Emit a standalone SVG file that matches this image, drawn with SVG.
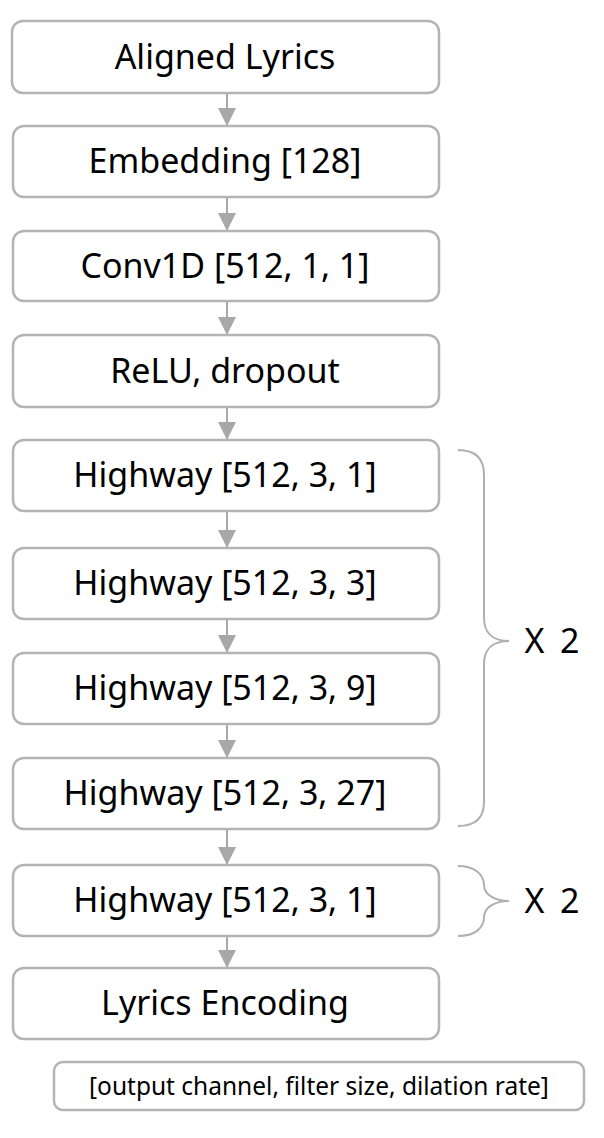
<svg xmlns="http://www.w3.org/2000/svg" width="604" height="1138" viewBox="0 0 604 1138">
<style>
.box{fill:#fff;stroke:#b4b4b4;stroke-width:2.5}
.t{font-family:"Noto Sans","Liberation Sans",sans-serif;font-size:34px;fill:#000;text-anchor:middle}
.s{font-family:"Noto Sans","Liberation Sans",sans-serif;font-size:24.5px;fill:#000;text-anchor:middle}
.c{stroke:#a8a8a8;stroke-width:2;fill:none}
.brace{stroke:#b0b0b0;stroke-width:2;fill:none}
</style>
<defs>
<marker id="ah" markerWidth="9" markerHeight="9" refX="9" refY="4.5" orient="auto" markerUnits="strokeWidth">
<path d="M0,0 L9,4.5 L0,9 Z" fill="#a8a8a8"/>
</marker>
</defs>
<rect width="604" height="1138" fill="#fff"/>
<g id="connectors">
<line class="c" x1="227" y1="93" x2="227" y2="126" marker-end="url(#ah)"/>
<line class="c" x1="227" y1="197" x2="227" y2="231" marker-end="url(#ah)"/>
<line class="c" x1="227" y1="301" x2="227" y2="335" marker-end="url(#ah)"/>
<line class="c" x1="227" y1="407" x2="227" y2="440" marker-end="url(#ah)"/>
<line class="c" x1="227" y1="511" x2="227" y2="548" marker-end="url(#ah)"/>
<line class="c" x1="227" y1="619" x2="227" y2="653" marker-end="url(#ah)"/>
<line class="c" x1="227" y1="724" x2="227" y2="758" marker-end="url(#ah)"/>
<line class="c" x1="227" y1="829" x2="227" y2="865" marker-end="url(#ah)"/>
<line class="c" x1="227" y1="936" x2="227" y2="968" marker-end="url(#ah)"/>
</g>
<g id="n1"><rect class="box" x="12" y="21" width="427" height="72" rx="11"/><text class="t" x="225" y="69">Aligned Lyrics</text></g>
<g id="n2"><rect class="box" x="13" y="126" width="426" height="71" rx="11"/><text class="t" x="225" y="173">Embedding [128]</text></g>
<g id="n3"><rect class="box" x="13" y="231" width="426" height="70" rx="11"/><text class="t" x="225" y="278">Conv1D [512, 1, 1]</text></g>
<g id="n4"><rect class="box" x="13" y="335" width="426" height="72" rx="11"/><text class="t" x="225" y="383">ReLU, dropout</text></g>
<g id="n5"><rect class="box" x="13" y="440" width="426" height="71" rx="11"/><text class="t" x="225" y="487">Highway [512, 3, 1]</text></g>
<g id="n6"><rect class="box" x="13" y="548" width="426" height="71" rx="11"/><text class="t" x="225" y="595">Highway [512, 3, 3]</text></g>
<g id="n7"><rect class="box" x="13" y="653" width="426" height="71" rx="11"/><text class="t" x="225" y="700">Highway [512, 3, 9]</text></g>
<g id="n8"><rect class="box" x="13" y="758" width="426" height="71" rx="11"/><text class="t" x="225" y="805">Highway [512, 3, 27]</text></g>
<g id="n9"><rect class="box" x="13" y="865" width="426" height="71" rx="11"/><text class="t" x="225" y="912">Highway [512, 3, 1]</text></g>
<g id="n10"><rect class="box" x="13" y="968" width="426" height="71" rx="11"/><text class="t" x="225" y="1015">Lyrics Encoding</text></g>
<g id="legend"><rect class="box" x="54" y="1062" width="530" height="48" rx="9"/><text class="s" x="319" y="1095">[output channel, filter size, dilation rate]</text></g>
<g id="brace1">
<path class="brace" d="M458,450 C475,450 484,458 484,475 L484,618 C484,632 492,641 509,641 C492,641 484,650 484,664 L484,802 C484,818 475,826 458,826"/>
<text class="t" x="552" y="653" textLength="55" lengthAdjust="spacing">X 2</text>
</g>
<g id="brace2">
<path class="brace" d="M458,866 C475,866 484,875 484,885 C484,894 494,901 509,901 C494,901 484,908 484,917 C484,928 475,936 458,936"/>
<text class="t" x="552" y="913" textLength="55" lengthAdjust="spacing">X 2</text>
</g>
</svg>
